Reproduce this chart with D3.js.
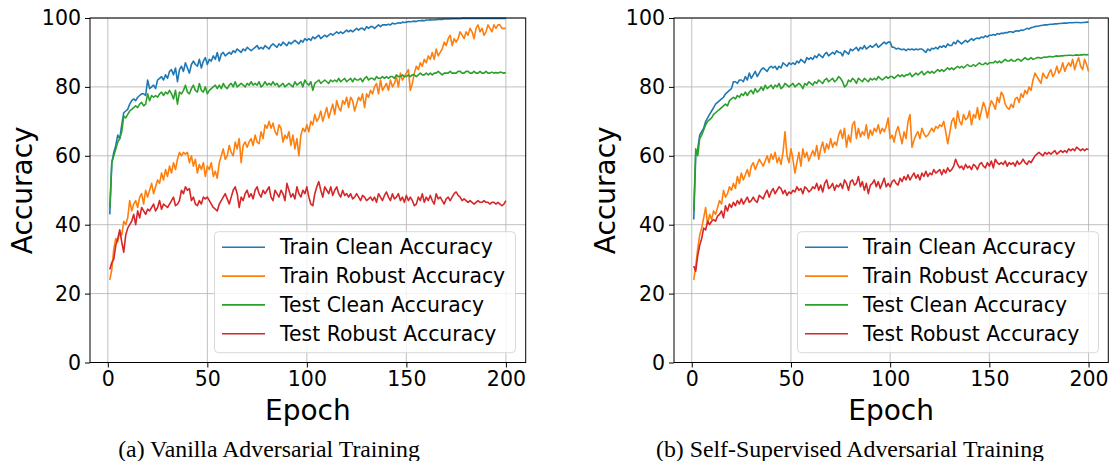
<!DOCTYPE html>
<html>
<head>
<meta charset="utf-8">
<script src="https://cdn.jsdelivr.net/npm/d3@7"></script>
<style>
  body { margin: 0; background: #fff; }
  text { font-family: "DejaVu Sans", sans-serif; }
</style>
</head>
<body>
<svg id="chart"></svg>
<script>
const epochs = d3.range(1, 201);
const xTicks = [0, 50, 100, 150, 200];
const yTicks = [0, 20, 40, 60, 80, 100];
const seriesNames = ["Train Clean Accuracy", "Train Robust Accuracy", "Test Clean Accuracy", "Test Robust Accuracy"];
const seriesColors = ["#1f77b4", "#ff7f0e", "#2ca02c", "#d62728"];
const captions = ["(a) Vanilla Adversarial Training", "(b) Self-Supervised Adversarial Training"];

// (a) vanilla adversarial training
const vanillaTrainClean = [
  43, 58, 61, 63, 66, 65, 69, 72.5, 73, 73.5,
  75, 76, 76.5, 76, 77, 77.5, 78, 78, 77.5, 82,
  79.5, 80, 80.5, 79.5, 82, 82.5, 83, 82, 83.5, 82.5,
  84.5, 85, 83.5, 85.5, 81.5, 85, 86, 84.5, 87, 85.5,
  84, 86.5, 87.5, 86.5, 86, 88, 85.5, 87.5, 88.5, 86.5,
  88, 87.5, 89, 88, 90, 87.5, 89.5, 90, 89, 89.5,
  90, 89.5, 90.5, 90, 91, 90.5, 90, 91, 90.5, 91.5,
  91, 90.5, 91, 91.5, 92, 91, 91.5, 91, 92, 91.5,
  91, 92, 92.5, 92, 91.5, 92.5, 92, 93, 92.5, 92,
  93, 92.5, 93, 93.5, 93, 92.5, 93.5, 93, 94, 93.5,
  94, 93.5, 94.5, 94, 94.5, 95, 94, 94.5, 95, 94.5,
  95, 95.5, 95, 95.5, 96, 95.5, 96, 95.5, 96, 96.5,
  96, 96.5, 96, 96.5, 97, 96.5, 97, 97, 96.5, 97.5,
  97, 97.5, 97.5, 97, 97.5, 98, 97.5, 98, 98, 98,
  98.2, 98, 98.5, 98.3, 98.4, 98.6, 98.5, 98.8, 98.7, 98.8,
  99, 98.9, 99, 99.1, 99, 99.2, 99.2, 99.3, 99.2, 99.4,
  99.4, 99.5, 99.4, 99.5, 99.5, 99.6, 99.6, 99.6, 99.7, 99.7,
  99.7, 99.7, 99.8, 99.8, 99.8, 99.8, 99.8, 99.9, 99.9, 99.9,
  99.9, 99.9, 99.9, 99.9, 99.9, 99.9, 99.9, 99.9, 99.9, 99.9,
  99.9, 99.9, 99.9, 99.9, 99.9, 99.9, 99.9, 99.9, 99.9, 99.9
];
const vanillaTrainRobust = [
  24, 27, 33, 36, 35, 38, 37, 41, 40, 42,
  47, 44, 46, 47, 45, 48, 49, 46, 50, 48,
  50, 52, 49, 51, 53, 52, 55, 53, 56, 54,
  57, 55, 58, 56, 59, 61, 60, 61, 60.5, 61,
  58, 60, 57, 59, 55, 57.5, 56, 58, 54, 57,
  56, 58, 54, 55.5, 53.5, 58, 60, 62, 59, 60,
  63, 61, 60, 64, 62, 65, 58, 63, 64, 62.5,
  64, 65, 63, 66, 64, 63.5, 67, 65, 69, 68,
  70, 68, 69.5, 67, 66, 69, 68, 64, 66, 65,
  67, 63, 66, 62, 65, 60, 66, 68, 67, 69,
  67, 70, 69, 72, 70, 71, 73, 70, 72, 74,
  71, 73, 75, 72, 76, 74, 73, 76, 75, 77,
  74, 77, 76, 73, 75, 77, 76, 78, 74, 78,
  77, 79, 78, 80, 81, 78, 82, 79, 80, 81,
  79, 82, 80, 81, 83, 80, 84, 82, 83, 84,
  85, 79, 81, 84, 86, 85, 87, 86, 88, 87,
  89, 88, 90, 88, 91, 89, 90, 91, 93, 92,
  94, 95, 92, 94, 93, 94, 96, 95, 94, 96,
  95, 97, 96, 94, 97, 98, 96, 97, 95, 96,
  98, 97, 96, 98, 97, 98, 98, 97, 97, 97
];
const vanillaTestClean = [
  45, 58, 60, 62, 64, 65, 67, 71.5, 71, 72,
  73, 73.5, 74, 74.5, 74, 75, 75.5, 74.5, 75, 78,
  76, 77.5, 77, 77.5, 77, 78, 78.5, 77.5, 78.5, 78,
  79, 78, 76.5, 79, 75, 78.5, 78, 79, 80.5, 78.5,
  78, 79.5, 80.5, 79, 78.5, 81, 79, 78.5, 80, 78,
  79, 79.5, 80, 80.5, 79.5, 80.5, 79.5, 81, 80, 79.5,
  80.5, 81, 80, 81.5, 80, 80.5, 81, 80.5, 80, 81,
  80.5, 81.5, 80.5, 81, 80.5, 81.5, 80, 80.5, 81.5, 80.5,
  81, 80.5, 81.5, 80.5, 81, 80, 80.5, 81, 80, 80.5,
  81, 80.5, 80, 81.5, 80.5, 81, 81.5, 80, 82, 81,
  80.5, 81.5, 79, 81, 81.5, 82, 81, 81.5, 82, 81.5,
  81, 82, 81.5, 82, 81.5, 82.5, 81.5, 82, 82.5, 81.5,
  82, 82.5, 81.5, 82.5, 82, 82, 82.5, 81.5, 82.5, 83,
  82, 82.5, 82.5, 82, 83, 82.5, 82.5, 83, 82.5, 83,
  82.5, 83, 83, 82.5, 83.5, 83, 83, 83.5, 83, 83,
  83.5, 83, 83.5, 83.5, 83, 83.5, 84, 83.5, 83.5, 84,
  83.5, 84, 83.5, 84, 84, 84.5, 84, 83.5, 84, 84,
  84, 84.5, 84, 84, 84, 84.5, 84.5, 84, 84, 84.5,
  84.5, 84, 84, 84.5, 84, 84, 84.5, 84, 84, 84.5,
  84, 84, 84.3, 84, 84.2, 84, 84.3, 84.2, 84, 84.2
];
const vanillaTestRobust = [
  27, 29, 30, 34, 36, 38.5, 35, 32, 37, 39,
  40, 41, 43, 40, 44, 42, 45, 44, 43, 44.5,
  44, 45, 46, 44, 45, 47, 44.5, 46, 45.5, 45,
  46, 47, 48, 45.5, 46, 47, 50, 49, 51, 50,
  50.5, 47, 48, 46, 45.5, 47, 46, 48, 47.5, 48,
  47, 46, 45, 44.5, 44, 46, 47, 48, 49, 47.5,
  46, 48, 50, 51, 49, 45, 48, 47, 49, 50,
  48, 49, 47.5, 50, 51, 49, 48, 50, 49, 50,
  51, 48, 47, 50, 49, 48, 50, 49, 47, 52,
  50, 48, 49, 47.5, 51, 49, 48, 50, 49, 51,
  48, 46, 45.5, 49, 51, 52.5, 50, 48, 51, 50,
  49, 51, 48.5, 50, 51, 49, 48, 50, 48.5, 49,
  48, 49, 47.5, 48, 49, 48, 47, 48.5, 48, 47,
  47.5, 48, 47, 48, 46.5, 49, 48, 47, 48.5, 49.5,
  48, 47, 49, 47.5, 48, 49, 47, 48, 46.5, 48.5,
  47, 48, 47, 45.5, 46, 48, 47, 49, 46.5, 48,
  47, 48.5, 47, 46, 49, 47.5, 48, 47, 46, 47.5,
  48, 47, 48, 49, 49.5, 48.5, 48, 47, 47.5, 47,
  46.5, 47, 46.5, 46, 46.5, 47, 46.5, 46.5, 47, 46.5,
  46.5, 46, 46.5, 46.5, 46, 46.5, 46, 45.5, 46, 47
];

// (b) self-supervised adversarial training
const selfSupTrainClean = [
  41.5, 60, 62, 66, 67, 68, 70, 71, 72, 73,
  74, 75, 75.5, 76, 76.5, 77, 78, 78.5, 79, 79.5,
  81.5, 81.5, 81, 82, 82, 81.5, 83, 82, 84, 82.5,
  83.5, 84.5, 83, 84, 85, 85.5, 85, 84.5, 85.5, 86,
  85.5, 86, 85, 86, 85.5, 87, 86.5, 86, 87, 86.5,
  87, 86.5, 87.5, 87, 88, 87.5, 87, 88.5, 88, 88.5,
  88, 89, 88.5, 89.5, 89, 88.5, 89.5, 90, 89, 89.5,
  90, 89.5, 90.5, 90, 90, 89, 90.5, 90, 89.5, 91,
  90.5, 91, 91.5, 90.5, 91.5, 91, 92, 91, 91.5, 92,
  91.5, 92, 92.5, 91.5, 92, 92.5, 93, 92.5, 93, 93,
  91.5, 91.5, 91, 91.2, 91, 90.8, 91, 90.5, 91, 90.8,
  91, 90.7, 91, 90.8, 91, 91, 90.5, 90, 91, 90.5,
  91.2, 91, 91.5, 91, 91.8, 91.5, 92, 91.5, 92.5, 92,
  92, 93, 92.5, 93.5, 93, 92.5, 93, 93.5, 93, 93.5,
  94, 93.5, 94, 94.2, 94, 94.5, 94.3, 94.8, 94.5, 95,
  95, 95.2, 95, 95.5, 95.3, 95.6, 95.5, 95.8, 95.7, 96,
  96, 95.8, 96.2, 96.3, 96.2, 96.5, 96.4, 96.7, 97, 96.8,
  97.2, 97.3, 97.5, 97.6, 97.7, 97.8, 97.9, 98, 98, 98.1,
  98.2, 98.2, 98.3, 98.3, 98.4, 98.4, 98.5, 98.5, 98.5, 98.6,
  98.6, 98.6, 98.7, 98.7, 98.7, 98.6, 98.7, 98.7, 98.8, 98.8
];
const selfSupTrainRobust = [
  24, 28, 33, 37, 39, 42, 45, 40, 43, 41.5,
  44, 43, 45, 47, 46, 50, 48, 49, 51, 50,
  52, 50.5, 54, 52, 55, 53, 54.5, 56, 54, 57,
  58, 56, 57.5, 59, 58, 57, 58.5, 60, 58, 60.5,
  59, 61, 58, 59.5, 57.5, 61, 67, 60, 58, 62,
  59, 55, 58, 61, 57, 62, 59.5, 61, 58.5, 60,
  61.5, 60, 63, 59, 62, 64, 61, 63.5, 62, 65,
  62.5, 64, 63, 66, 67.5, 65, 68, 62.5, 66, 64,
  69, 70, 65, 68, 65.5, 67, 66, 69, 65, 67.5,
  66, 68, 67, 69, 66.5, 68, 67, 68.5, 71, 65,
  66, 64, 67, 68.5, 66, 63.5, 67, 65, 70, 72,
  62.5, 64.5, 66, 67, 65, 68, 66.5, 65.5, 66, 67,
  68, 67, 68.5, 68, 69, 68.5, 70, 67, 63.5, 66.5,
  70, 71, 68, 73, 70, 69, 72, 70.5, 71, 73,
  69, 72, 71, 74, 70.5, 73, 75.5, 74, 71, 74,
  76, 75, 73.5, 77, 75.5, 78.5, 77.5, 75, 74, 73.5,
  75, 74, 76.5, 77, 75.5, 78, 77, 79, 78, 80,
  79, 82, 84, 83, 82, 81, 84, 83, 82.5, 84,
  85, 83, 84, 86, 84, 85, 87, 84.5, 86, 87,
  86, 88, 85, 87, 88.5, 86, 85, 88, 86.5, 84.5
];
const selfSupTestClean = [
  44, 62, 60, 65, 66, 67.5, 69, 70, 70.5, 71,
  72, 72.5, 73, 73.5, 74, 74.5, 75, 74.5, 76, 76.5,
  77, 76.5, 77.5, 77, 78, 77.5, 78.5, 77.5, 78.5, 79,
  78, 79.5, 78.5, 79, 80, 79, 80.5, 79.5, 80, 80.5,
  79.5, 80.5, 80, 81, 79.5, 80, 81, 80.5, 80, 80.5,
  81, 80, 80.5, 81, 80.5, 79.5, 81, 80.5, 81.5, 81,
  80.5, 81.5, 81, 82, 81.5, 81, 82, 82.5, 81.5, 82,
  82.5, 81.5, 82, 83, 82.5, 81.5, 80, 80.5, 82, 81.5,
  82.5, 82, 81, 82.5, 82, 81.5, 82.5, 82, 81.5, 82.5,
  82, 82.5, 82, 83, 82.5, 82, 82.5, 83, 82.5, 83,
  83, 82.5, 83, 83.5, 83, 83.5, 83, 83.5, 83.5, 84,
  83, 83.5, 84, 83.5, 84, 84.5, 83.5, 84, 84.5, 84,
  84.5, 84, 84.5, 85, 84.5, 85, 84.5, 85, 85.5, 85,
  85.5, 85, 85.5, 86, 85.5, 86, 85.5, 86, 86.5, 86,
  86, 86.5, 86, 86.5, 87, 86.5, 86.5, 87, 86.5, 87,
  87, 87, 87.5, 87, 87.5, 87, 87.5, 88, 87.5, 87.5,
  88, 87.5, 87.5, 88, 88, 87.5, 88, 88.5, 88, 88,
  88.5, 88, 88.2, 88.5, 88.5, 88.3, 88.5, 88.7, 88.6, 88.8,
  88.8, 88.7, 88.9, 89, 88.9, 89, 89, 89.1, 89.1, 89.2,
  89.2, 89.1, 89.2, 89.3, 89.2, 89.3, 89.3, 89.4, 89.3, 89.4
];
const selfSupTestRobust = [
  28, 26.5, 31, 34, 36, 39, 38.5, 41, 40, 41,
  41.5, 41, 42.5, 43, 44, 42, 45.5, 44, 46, 45,
  46.5, 45.5, 47, 46, 47.5, 46, 47, 48, 46.5, 47,
  48, 47, 46.5, 48.5, 48, 47.5, 49, 50, 48, 49.5,
  50.5, 49, 50, 51, 50.5, 49, 50, 48.5, 49.5, 49,
  50, 49.5, 51, 50, 50.5, 49, 51, 50.5, 49.5, 50,
  51, 50.5, 52, 50, 51.5, 49.5, 52, 53, 50.5, 51,
  52, 50, 51.5, 51, 52, 50.5, 53, 52, 50, 52.5,
  53, 51.5, 52, 54, 51, 52.5, 50, 52, 49, 51.5,
  52, 53, 51, 52.5, 50.5, 52, 53.5, 51, 52, 51,
  52.5, 53, 52, 51.5, 53.5, 52.5, 54, 53, 54.5, 53,
  54, 55, 53.5, 54.5, 53, 55, 54, 55.5, 54, 55,
  54.5, 56, 55, 55.5, 56, 54.5, 56, 55, 56.5, 55.5,
  56, 57, 59, 57.5, 56.5, 57, 56, 57.5, 56.5, 57,
  56, 57.5, 57, 56, 57.5, 58, 57, 56.5, 58, 57,
  58.5, 56.5, 59, 58, 57.5, 58, 57.5, 58.5, 57, 58,
  57.5, 58, 57, 58.5, 57.5, 58, 59, 58, 57.5, 58.5,
  58, 59, 60, 60.5, 61, 60.5, 60, 61, 60.5, 61,
  60.5, 61, 61.5, 60.5, 61, 61.5, 61, 61.5, 61, 62,
  61.5, 62, 61.5, 62.5, 62, 61.5, 62, 61.5, 62, 61.8
];

const width = 1109;
const height = 461;

const svg = d3.select("#chart")
    .attr("width", width)
    .attr("height", height)
    .style("background", "#fff");

const panels = [
    { left: 90, right: 525.7, ylabelX: 22, legendX: 214.5, captionX: 269, caption: captions[0],
      series: [vanillaTrainClean, vanillaTrainRobust, vanillaTestClean, vanillaTestRobust] },
    { left: 674, right: 1108.3, ylabelX: 605, legendX: 797.5, captionX: 850, caption: captions[1],
      series: [selfSupTrainClean, selfSupTrainRobust, selfSupTestClean, selfSupTestRobust] }
];

const plotTop = 18, plotBottom = 362.5;

panels.forEach(p => {
    const x = d3.scaleLinear().domain([-8.95, 209.95]).range([p.left, p.right]);
    const y = d3.scaleLinear().domain([0, 100]).range([plotBottom, plotTop]);
    const g = svg.append("g");

    // grid
    g.append("g").selectAll("line").data(xTicks).join("line")
        .attr("x1", d => x(d)).attr("x2", d => x(d))
        .attr("y1", plotTop).attr("y2", plotBottom)
        .attr("stroke", "#b0b0b0").attr("stroke-width", 0.8);
    g.append("g").selectAll("line").data(yTicks).join("line")
        .attr("x1", p.left).attr("x2", p.right)
        .attr("y1", d => y(d)).attr("y2", d => y(d))
        .attr("stroke", "#b0b0b0").attr("stroke-width", 0.8);

    // axes
    const xAxis = g.append("g")
        .attr("transform", `translate(0,${plotBottom})`)
        .call(d3.axisBottom(x).tickValues(xTicks).tickSize(5).tickPadding(4).tickSizeOuter(0));
    const yAxis = g.append("g")
        .attr("transform", `translate(${p.left},0)`)
        .call(d3.axisLeft(y).tickValues(yTicks).tickSize(5).tickPadding(4).tickSizeOuter(0));
    [xAxis, yAxis].forEach(a => {
        a.select(".domain").remove();
        a.selectAll("line").attr("stroke", "#000").attr("stroke-width", 1);
        a.selectAll("text").attr("font-size", 20.5).attr("fill", "#000")
            .attr("font-family", "DejaVu Sans");
    });

    // lines
    const line = d3.line().x((d, i) => x(epochs[i])).y(d => y(d));
    p.series.forEach((s, i) => {
        g.append("path")
            .datum(s)
            .attr("d", line)
            .attr("fill", "none")
            .attr("stroke", seriesColors[i])
            .attr("stroke-width", 1.6)
            .attr("stroke-linejoin", "round");
    });

    // frame
    g.append("rect")
        .attr("x", p.left).attr("y", plotTop)
        .attr("width", p.right - p.left).attr("height", plotBottom - plotTop)
        .attr("fill", "none").attr("stroke", "#000").attr("stroke-width", 1);

    // labels
    g.append("text")
        .attr("x", (p.left + p.right) / 2).attr("y", 420)
        .attr("text-anchor", "middle").attr("font-size", 28)
        .text("Epoch");
    g.append("text")
        .attr("transform", `translate(${p.ylabelX + 10},${(plotTop + plotBottom) / 2}) rotate(-90)`)
        .attr("text-anchor", "middle").attr("font-size", 28)
        .text("Accuracy");

    // legend
    const lg = g.append("g").attr("transform", `translate(${p.legendX},231.7)`);
    lg.append("rect")
        .attr("width", 301).attr("height", 121)
        .attr("rx", 4)
        .attr("fill", "#fff").attr("fill-opacity", 0.8)
        .attr("stroke", "#d9d9d9").attr("stroke-width", 1);
    seriesNames.forEach((name, i) => {
        const cy = 15.6 + i * 28.8;
        lg.append("line")
            .attr("x1", 7.5).attr("x2", 50.5)
            .attr("y1", cy).attr("y2", cy)
            .attr("stroke", seriesColors[i]).attr("stroke-width", 1.6);
        lg.append("text")
            .attr("x", 65.5).attr("y", cy + 7)
            .attr("font-size", 20.4)
            .text(name);
    });

    // caption
    svg.append("text")
        .attr("x", p.captionX).attr("y", 457)
        .attr("text-anchor", "middle")
        .style("font-family", "'Liberation Serif', serif")
        .attr("font-size", 23.8)
        .text(p.caption);
});
</script>
</body>
</html>
